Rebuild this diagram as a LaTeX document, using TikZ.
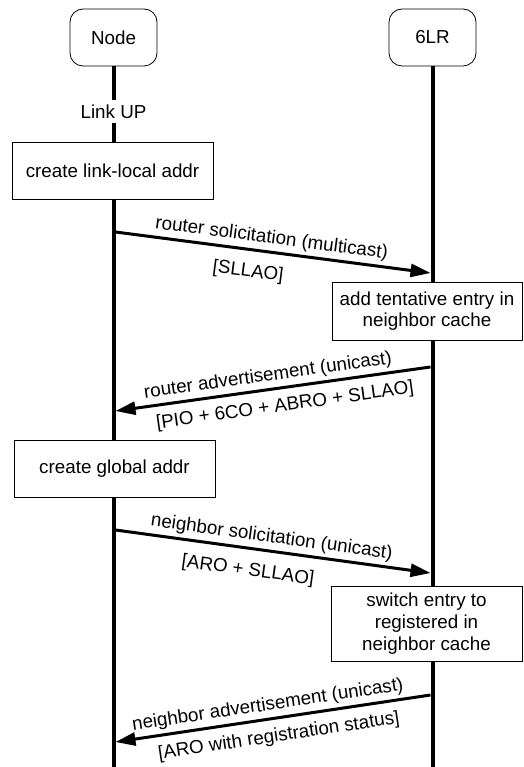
\documentclass[tikz,border=0pt]{standalone}
\usepackage{fontspec}
\setmainfont{Liberation Sans}
\usetikzlibrary{arrows.meta, positioning}

\tikzset{
	actor/.style={draw, fill=white, line width=0.8pt, rounded corners=13pt, minimum width=87pt, minimum height=57pt},
	life/.style={line width=4pt},
	action/.style={draw, fill=white, line width=0.8pt, align=center, inner sep=2pt},
	msg/.style={line width=3pt, -{Triangle[length=20pt, width=13pt]}},
	msgtop/.style={sloped, above},
	msgbot/.style={sloped, below=#1},
}

\begin{document}
\begin{tikzpicture}[x=1pt, y=-1pt, font=\fontsize{18.8}{21.7}\selectfont]
	\useasboundingbox (0,0) rectangle (523,767);

	%%%% lifelines
	\node[actor] (node) at (113.5,37.5) {Node};
	\node[actor] (lr) at (432.5,37.5) {6LR};
	\coordinate (nodeend) at (113.5,767);
	\coordinate (lrend) at (432.5,767);
	\draw[life] (node.south) -- (nodeend);
	\draw[life] (lr.south) -- (lrend);

	\node[fill=white, inner sep=1pt, minimum height=23pt] (linkup) at (113.5,111.5) {Link UP};

	%%%% actions
	\node[action, minimum width=201pt, minimum height=57pt] (linklocal) at (112.5,170.5) {create link-local addr};
	\node[action, minimum width=190pt, minimum height=58pt] (tentative) at (427,311) {add tentative entry in\\neighbor cache};
	\node[action, minimum width=201pt, minimum height=57pt] (global) at (114.5,468.5) {create global addr};
	\node[action, minimum width=191pt, minimum height=75pt] (registered) at (426.5,623.5) {switch entry to\\registered in\\neighbor cache};
	%%%%%%

	%%%% messages
	\coordinate (rsfrom) at (115.5,232);
	\coordinate (rsto) at (430.5,273);
	\draw[msg] (rsfrom) -- node[msgtop, pos=0.49] {router solicitation (multicast)}
		node[msgbot=9pt, pos=0.43] {[SLLAO]} (rsto);

	\coordinate (rafrom) at (430.5,367);
	\coordinate (rato) at (115.5,411);
	\draw[msg] (rafrom) -- node[msgtop, pos=0.51] {router advertisement (unicast)}
		node[msgbot=5pt, pos=0.47] {[PIO + 6CO + ABRO + SLLAO]} (rato);

	\coordinate (nsfrom) at (115.5,530);
	\coordinate (nsto) at (430.5,573);
	\draw[msg] (nsfrom) -- node[msgtop, pos=0.49] {neighbor solicitation (unicast)}
		node[msgbot=9pt, pos=0.43] {[ARO + SLLAO]} (nsto);

	\coordinate (nafrom) at (430.5,695);
	\coordinate (nato) at (115.5,742);
	\draw[msg] (nafrom) -- node[msgtop, pos=0.51] {neighbor advertisement (unicast)}
		node[msgbot=5pt, pos=0.49] {[ARO with registration status]} (nato);
	%%%%%%
\end{tikzpicture}
\end{document}
